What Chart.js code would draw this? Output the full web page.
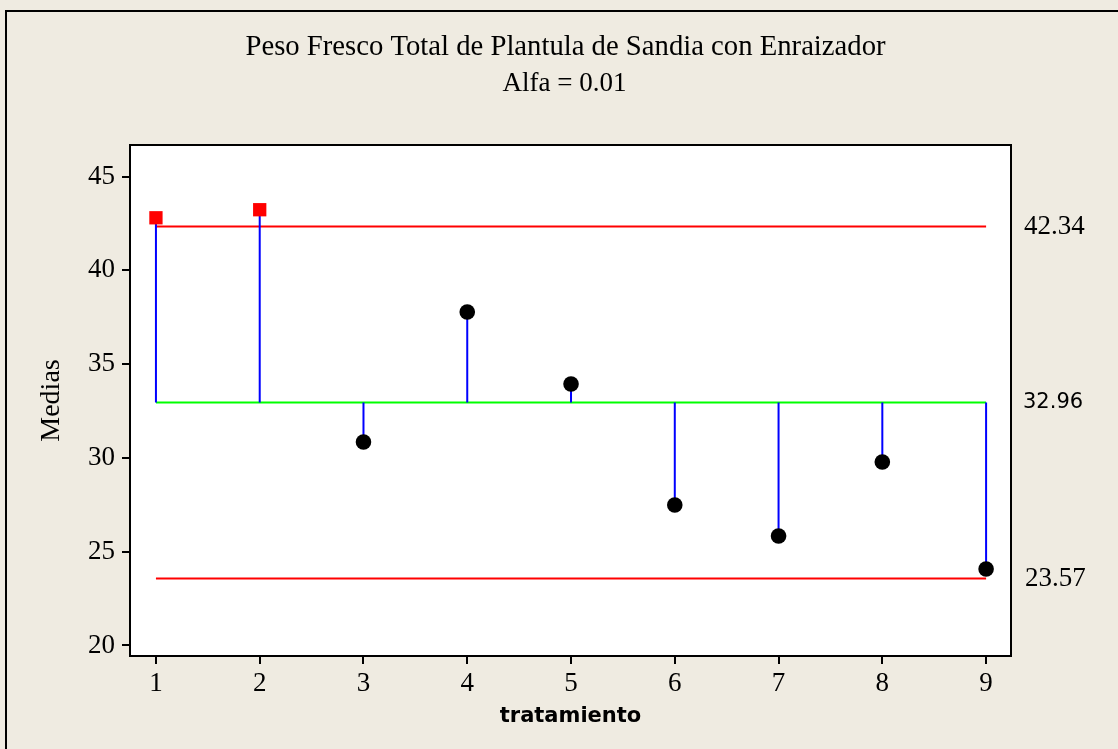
<!DOCTYPE html>
<html lang="es">
<head>
<meta charset="UTF-8">
<title>Peso Fresco Total de Plantula de Sandia con Enraizador</title>
<script src="https://cdn.jsdelivr.net/npm/chart.js"></script>
<style>
  html, body { margin: 0; padding: 0; background: #efebe1; }
  #wrap { position: relative; width: 1118px; height: 749px; overflow: hidden; }
</style>
</head>
<body>
<div id="wrap"><canvas id="anom" width="1118" height="749"></canvas></div>
<script>
// medias por tratamiento y límites de decisión
const tratamientos = [1, 2, 3, 4, 5, 6, 7, 8, 9];
const medias = [42.80, 43.23, 30.85, 37.78, 33.94, 27.49, 25.84, 29.78, 24.08];
const limiteSup = 42.34;
const lineaCentral = 32.96;
const limiteInf = 23.57;
const yTicks = [20, 25, 30, 35, 40, 45];
const titulo = 'Peso Fresco Total de Plantula de Sandia con Enraizador';
const subtitulo = 'Alfa = 0.01';

const SERIF = '"Liberation Serif", "Times New Roman", serif';
const SANS = '"DejaVu Sans", Tahoma, sans-serif';

const xFirst = tratamientos[0], xLast = tratamientos[tratamientos.length - 1];
const hline = v => [{ x: xFirst, y: v }, { x: xLast, y: v }];

// segmentos verticales desde la línea central hasta cada media
const stems = [];
tratamientos.forEach((t, i) => {
  stems.push({ x: t, y: lineaCentral }, { x: t, y: medias[i] }, { x: t, y: null });
});

const fuera = v => v > limiteSup || v < limiteInf;

const decor = {
  id: 'decor',
  beforeDraw(chart) {
    const { ctx, chartArea: a } = chart;
    ctx.save();
    ctx.fillStyle = '#ffffff';
    ctx.fillRect(a.left, a.top, a.right - a.left, a.bottom - a.top);
    ctx.restore();
  },
  afterDraw(chart) {
    const { ctx, chartArea: a, scales: { y } } = chart;
    ctx.save();
    // marco exterior
    ctx.strokeStyle = '#000';
    ctx.lineWidth = 2;
    ctx.strokeRect(6, 11, 1300, 900);
    // marco del área de datos
    ctx.strokeRect(a.left, a.top, a.right - a.left, a.bottom - a.top);

    ctx.fillStyle = '#000';
    ctx.textAlign = 'center';
    ctx.textBaseline = 'middle';
    ctx.font = '28.7px ' + SERIF;
    ctx.fillText(titulo, (a.left + a.right) / 2 - 5, 47);
    ctx.font = '27px ' + SERIF;
    ctx.fillText(subtitulo, (a.left + a.right) / 2 - 6, 84);

    // etiquetas de los límites a la derecha
    ctx.textAlign = 'left';
    ctx.font = '27px ' + SERIF;
    ctx.fillText(limiteSup.toFixed(2), a.right + 13, y.getPixelForValue(limiteSup));
    ctx.fillText(limiteInf.toFixed(2), a.right + 14, y.getPixelForValue(limiteInf));
    ctx.font = '21px ' + SANS;
    ctx.fillText(lineaCentral.toFixed(2), a.right + 12, y.getPixelForValue(lineaCentral));
    ctx.restore();
  }
};

new Chart(document.getElementById('anom'), {
  type: 'scatter',
  data: {
    datasets: [
      {
        label: 'Medias',
        data: tratamientos.map((t, i) => ({ x: t, y: medias[i] })),
        showLine: false,
        order: 0,
        pointStyle: c => fuera(c.raw.y) ? 'rect' : 'circle',
        pointRadius: c => fuera(c.raw.y) ? 9.4 : 7.8,
        pointHoverRadius: c => fuera(c.raw.y) ? 9.4 : 7.8,
        backgroundColor: c => fuera(c.raw.y) ? '#ff0000' : '#000000',
        borderColor: c => fuera(c.raw.y) ? '#ff0000' : '#000000',
        borderWidth: 0
      },
      {
        label: 'stems',
        data: stems,
        showLine: true,
        spanGaps: false,
        order: 1,
        borderColor: '#0000ff',
        borderWidth: 2,
        pointRadius: 0
      },
      {
        label: 'LC',
        data: hline(lineaCentral),
        showLine: true,
        order: 2,
        borderColor: '#00ff00',
        borderWidth: 2,
        pointRadius: 0
      },
      {
        label: 'LDS',
        data: hline(limiteSup),
        showLine: true,
        order: 3,
        borderColor: '#ff0000',
        borderWidth: 2,
        pointRadius: 0
      },
      {
        label: 'LDI',
        data: hline(limiteInf),
        showLine: true,
        order: 3,
        borderColor: '#ff0000',
        borderWidth: 2,
        pointRadius: 0
      }
    ]
  },
  options: {
    responsive: false,
    animation: false,
    events: [],
    layout: { padding: { top: 145, right: 107, left: 0, bottom: 0 } },
    plugins: { legend: { display: false }, tooltip: { enabled: false } },
    scales: {
      x: {
        type: 'linear',
        min: 0.75,
        max: 9.24,
        afterBuildTicks: s => { s.ticks = tratamientos.map(v => ({ value: v })); },
        afterFit: s => { s.height = 93; },
        grid: { drawOnChartArea: false, drawTicks: true, tickLength: 8, color: '#000', lineWidth: 2 },
        border: { display: false },
        ticks: { color: '#000', padding: 4, font: { family: SERIF, size: 27 }, maxRotation: 0 },
        title: {
          display: true, text: 'tratamiento', color: '#000',
          font: { family: SANS, size: 21, weight: 'bold' },
          padding: { top: 0, bottom: 20 }
        }
      },
      y: {
        min: 19.44,
        max: 46.68,
        afterBuildTicks: s => { s.ticks = yTicks.map(v => ({ value: v })); },
        afterFit: s => { s.width = 130; },
        grid: { drawOnChartArea: false, drawTicks: true, tickLength: 8, color: '#000', lineWidth: 2 },
        border: { display: false },
        ticks: { color: '#000', padding: 7, font: { family: SERIF, size: 27 } },
        title: {
          display: true, text: 'Medias', color: '#000',
          font: { family: SERIF, size: 28 },
          padding: { top: 35, bottom: 0 }
        }
      }
    }
  },
  plugins: [decor]
});
</script>
</body>
</html>
